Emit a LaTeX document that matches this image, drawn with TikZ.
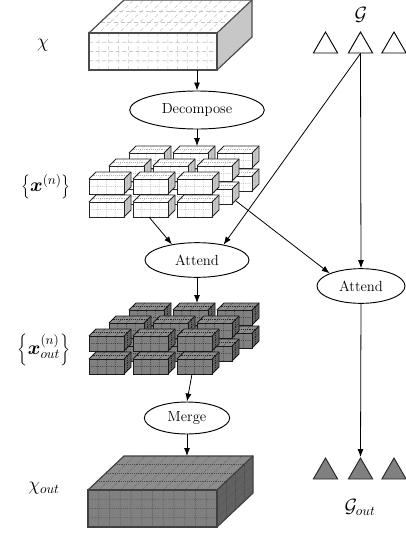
\documentclass[tikz,border=0pt]{standalone}
\usepackage{bm}
\usetikzlibrary{shapes.geometric,arrows.meta}
\newcommand\cuboid[9]{%
 \begin{scope}[shift={(#1,#2)}]
  \fill[cfront] (0,0) rectangle (#3,#4);
  \fill[ctop] (0,0) -- (#3,0) -- ++(#5,-#6) -- ++(-#3,0) -- cycle;
  \fill[cside] (#3,0) -- ++(#5,-#6) -- ++(0,#4) -- (#3,#4) -- cycle;
  \pgfmathtruncatemacro\cnx{#7-1}%
  \pgfmathtruncatemacro\cny{#8-1}%
  \pgfmathtruncatemacro\cnd{#9-1}%
  \foreach \k in {1,...,\cnx}{\draw[cgrid] ({\k*#3/#7},#4) -- ({\k*#3/#7},0) -- ++(#5,-#6);}
  \foreach \k in {1,...,\cny}{\draw[cgrid] (0,{\k*#4/#8}) -- (#3,{\k*#4/#8}) -- ++(#5,-#6);}
  \foreach \k in {1,...,\cnd}{\draw[cgrid] ({\k*#5/#9},{-\k*#6/#9}) -- ++(#3,0) -- ++(0,#4);}
  \draw[cedge] (0,0) rectangle (#3,#4);
  \draw[cedge] (0,0) -- ++(#5,-#6) -- ++(#3,0) -- ++(0,#4) -- (#3,#4);
  \draw[cedge] (#3,0) -- ++(#5,-#6);
 \end{scope}}
\tikzset{
 proc/.style={ellipse, draw, line width=0.7pt, inner sep=0pt, font=\fontsize{11}{13}\selectfont},
 arr/.style={-{Latex[length=6pt,width=4.5pt]}, line width=0.6pt},
 tri/.style={regular polygon, regular polygon sides=3, minimum size=21pt, inner sep=0pt, draw, line width=0.7pt},
 lab/.style={font=\Large},
 whitecube/.style={cfront/.style={fill=white}, ctop/.style={fill=white}, cside/.style={fill=black!22},
   cgrid/.style={gray!60, densely dotted, line width=0.4pt}, cedge/.style={black!85, line width=0.6pt}},
 darkcube/.style={cfront/.style={fill=black!50}, ctop/.style={fill=black!45}, cside/.style={fill=black!62},
   cgrid/.style={black!85, densely dotted, line width=0.4pt}, cedge/.style={black!90, line width=0.6pt}},
 whiteslab/.style={cfront/.style={fill=white}, ctop/.style={fill=white}, cside/.style={fill=black!22},
   cgrid/.style={gray!45, densely dashed, line width=0.4pt}, cedge/.style={black!70, line width=0.9pt}},
 darkslab/.style={cfront/.style={fill=black!50}, ctop/.style={fill=black!45}, cside/.style={fill=black!62},
   cgrid/.style={black!70, densely dotted, line width=0.4pt}, cedge/.style={black!75, line width=0.9pt}},
}
\begin{document}
\begin{tikzpicture}[x=0.75pt, y=-0.75pt]
\useasboundingbox (0,0) rectangle (406,533);
\begin{scope}
\clip (0,0) rectangle (406,533);
% top slab
\begin{scope}[whiteslab]
 \cuboid{89}{33}{128}{37}{35}{33}{13}{4}{3}
\end{scope}
% white cube grid
\begin{scope}[whitecube]
 \foreach \L in {2,1,0}{\foreach \c in {0,1,2}{\foreach \r in {1,0}{
  \cuboid{89+20*\L+44*\c}{179-13*\L+23*\r}{35}{15}{7}{7}{4}{2}{2}}}}
\end{scope}
% dark cube grid
\begin{scope}[darkcube]
 \foreach \L in {2,1,0}{\foreach \c in {0,1,2}{\foreach \r in {1,0}{
  \cuboid{89+20*\L+44*\c}{336-13*\L+23*\r}{35}{15}{7}{7}{4}{2}{2}}}}
\end{scope}
% bottom slab
\begin{scope}[darkslab]
 \cuboid{88}{490}{129}{37}{36}{34}{12}{4}{4}
\end{scope}
\end{scope}
% labels
\node[lab] (lchi) at (43,45) {$\chi$};
\node[lab] (lxn) at (46,187) {$\left\{\bm{x}^{(n)}\right\}$};
\node[lab] (lxo) at (44,350) {$\left\{\bm{x}_{out}^{(n)}\right\}$};
\node[lab] (lchio) at (44,488) {$\chi_{out}$};
\node[lab] (lg) at (361,15) {$\mathcal{G}$};
\node[lab] (lgo) at (360,507) {$\mathcal{G}_{out}$};
% ellipses
\node[proc, minimum width=101pt, minimum height=28.5pt] (dec) at (197,110) {Decompose};
\node[proc, minimum width=78pt, minimum height=26pt] (att1) at (197,260) {Attend};
\node[proc, minimum width=66pt, minimum height=26pt] (att2) at (361,286) {Attend};
\node[proc, minimum width=64pt, minimum height=24pt] (merge) at (187,418) {Merge};
% triangles
\foreach \n/\xx in {1/325.5,2/360.5,3/394}{
 \node[tri, fill=white] (g\n) at (\xx,46) {};
 \node[tri, fill=black!50, draw=black!85] (h\n) at (\xx,472) {};
}
% anchor coordinates
\coordinate (s1) at (197,70);
\coordinate (w1) at (197,146);
\coordinate (w2) at (149,217);
\coordinate (w3) at (236,201);
\coordinate (d1) at (197,303);
\coordinate (d2) at (192,374);
\coordinate (s2) at (187,456);
% arrows
\draw[arr] (s1) -- (dec.north);
\draw[arr] (dec.south) -- (w1);
\draw[arr] (w2) -- (att1.148);
\draw[arr] (g2.south) -- (att1.30);
\draw[arr] (g2.south) -- (att2.north);
\draw[arr] (w3) -- (att2.158);
\draw[arr] (att1.south) -- (d1);
\draw[arr] (d2) -- (merge.north);
\draw[arr] (merge.south) -- (s2);
\draw[arr] (att2.south) -- (h2.north);
\end{tikzpicture}
\end{document}
